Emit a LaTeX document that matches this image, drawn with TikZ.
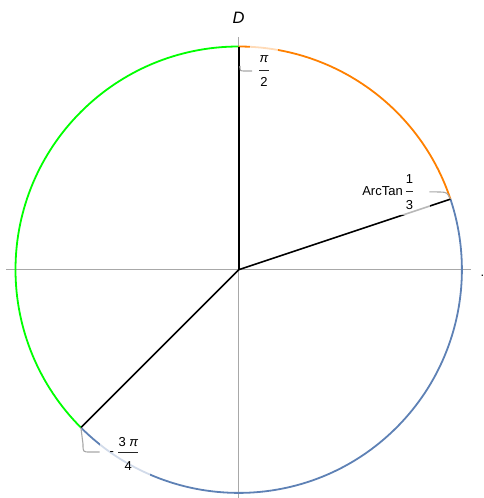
\documentclass[tikz,border=0pt]{standalone}
\usepackage{fontspec}
\setmainfont{Liberation Sans}
\definecolor{mblue}{rgb}{0.368417,0.506779,0.709798}
\definecolor{morange}{rgb}{1,0.5,0}
\definecolor{mgreen}{rgb}{0,1,0}
\definecolor{axisgray}{gray}{0.66}
\definecolor{leadgray}{gray}{0.66}
\begin{document}
\begin{tikzpicture}[x=1pt,y=1pt,
  axis/.style={draw=axisgray, line width=1pt},
  arcline/.style={line width=1.8pt},
  radiusline/.style={draw=black, line width=1.6pt},
  lbl/.style={inner sep=0pt, font=\fontsize{13}{15}\selectfont},
  fade/.style={fill=white, fill opacity=0.72},
  leader/.style={draw=leadgray, line width=1.1pt},
  fracbar/.style={draw=black!85, line width=0.8pt}]
\useasboundingbox (0,0) rectangle (483,-498);
\def\R{223.2}
\def\at{18.4349}
\coordinate (O) at (238.7,-269.7);
% axes
\coordinate (xl) at (6,-269.9);
\coordinate (xr) at (471,-269.9);
\coordinate (yt) at (238.7,-37);
\coordinate (yb) at (238.7,-498);
\draw[axis] (xl) -- (xr);
\draw[axis] (yb) -- (yt);
% arcs
\draw[arcline, mgreen] (O) ++(90:\R) arc[start angle=90, end angle=225, radius=\R];
\draw[arcline, morange] (O) ++(\at:\R) arc[start angle=\at, end angle=90, radius=\R];
\draw[arcline, mblue] (O) ++(-135:\R) arc[start angle=-135, end angle=\at, radius=\R];
% radius lines
\path (O) ++(90:\R) coordinate (P1);
\path (O) ++(\at:\R) coordinate (P2);
\path (O) ++(-135:\R) coordinate (P3);
\draw[radiusline] (O) -- (P1);
\draw[radiusline] (O) -- (P2);
\draw[radiusline] (O) -- (P3);
% axis labels
\node[inner sep=0pt, font=\fontsize{16.5}{18}\selectfont\itshape] (Dlab) at (238.5,-17.8) {D};
\node[lbl, anchor=base west] (dot) at (480.3,-276.2) {.};
% label pi/2
\fill[fade] (250,-44) rectangle (278,-92);
\coordinate (L1a) at (240,-66);
\coordinate (L1b) at (252,-71);
\draw[leader] (L1a) .. controls (240,-71) .. (245,-71) -- (L1b);
\node[lbl, font=\fontsize{13}{15}\selectfont\itshape] (pinum) at (264,-59) {π};
\coordinate (b1l) at (259.3,-70.5);
\coordinate (b1r) at (269,-70.5);
\draw[fracbar] (b1l) -- (b1r);
\node[lbl] (twoden) at (264,-81.7) {2};
% label ArcTan 1/3
\fill[fade] (357,-168) rectangle (430,-215);
\coordinate (L2a) at (429.3,-191.8);
\draw[leader] (L2a) -- (440,-192) .. controls (447,-192.3) .. (P2);
\node[lbl] (arctan) at (382.5,-191.4) {ArcTan};
\node[lbl] (onenum) at (409.4,-179) {1};
\coordinate (b2l) at (405.8,-191.7);
\coordinate (b2r) at (413,-191.7);
\draw[fracbar] (b2l) -- (b2r);
\node[lbl] (threeden) at (409.4,-205) {3};
% label -3pi/4
\fill[fade] (99.5,-429) rectangle (150,-477);
\coordinate (L3b) at (99.5,-452);
\draw[leader] (P3) -- (83,-444) .. controls (83,-452) .. (90,-452) -- (L3b);
\node[lbl, anchor=base] (minus) at (111.7,-455.6) {-};
\node[lbl] (threepi) at (128.3,-441.7) {3 \itshape π};
\coordinate (b3l) at (118.3,-452.3);
\coordinate (b3r) at (138.3,-452.3);
\draw[fracbar] (b3l) -- (b3r);
\node[lbl] (fourden) at (128.3,-465.7) {4};
\end{tikzpicture}
\end{document}
